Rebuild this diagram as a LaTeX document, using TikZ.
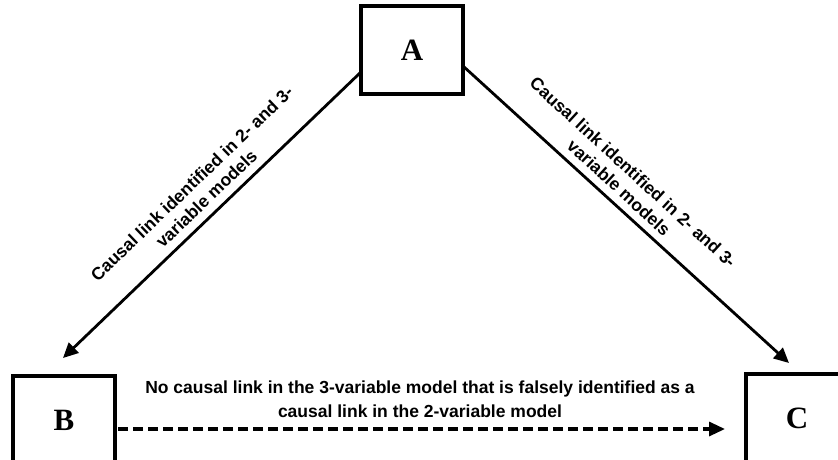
\documentclass[tikz,border=0pt]{standalone}
\usepackage{fontspec}
\setmainfont{Liberation Serif}
\newfontfamily\lab{Liberation Sans}
\usetikzlibrary{arrows.meta}
\begin{document}
\begin{tikzpicture}[x=1pt,y=-1pt,
  box/.style={draw,line width=3.5pt,minimum width=102pt,minimum height=88pt,inner sep=0pt,font=\fontsize{31}{31}\selectfont\bfseries},
  conn/.style={line width=2.8pt,-{Triangle[length=15pt,width=14pt]}},
  lbl/.style={font=\lab\bfseries\fontsize{17.5}{21}\selectfont,align=center,inner sep=0pt}]
\useasboundingbox (0,0) rectangle (838,459);
\node[box] (A) at (412,50) {A};
\node[box] (B) at (64,420) {B};
\node[box] (C) at (797,418) {C};
\coordinate (a1) at (361,72);
\coordinate (a2) at (463,66);
\coordinate (b1) at (63,358);
\coordinate (c1) at (789,363);
\coordinate (d1) at (118,429);
\coordinate (d2) at (725,429);
\draw[conn] (a1) -- (b1);
\draw[conn] (a2) -- (c1);
\draw[line width=3.2pt,-{Triangle[length=16pt,width=14pt]},dash pattern=on 10pt off 5pt] (d1) -- (d2);
\node[lbl,rotate=43.8] (l1) at (199,191) {Causal link identified in 2- and 3-\\variable models};
\node[lbl,rotate=-42.5] (l2) at (626,180) {Causal link identified in 2- and 3-\\variable models};
\node[lbl,font=\lab\bfseries\fontsize{17.5}{23.5}\selectfont] (l3) at (420,399) {No causal link in the 3-variable model that is falsely identified as a\\causal link in the 2-variable model};
\end{tikzpicture}
\end{document}
